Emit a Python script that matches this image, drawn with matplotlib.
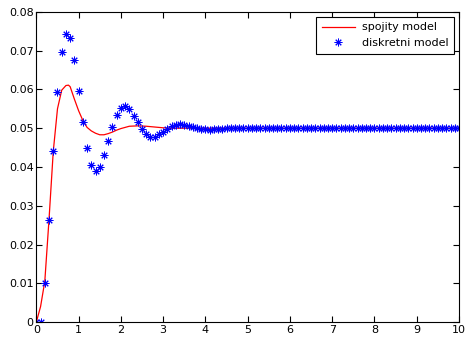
import numpy as np
import matplotlib
matplotlib.use('Agg')
import matplotlib.pyplot as plt

# continuous model
t_cont = [0, 0.1, 0.2, 0.3, 0.4, 0.5, 0.6, 0.7, 0.76, 0.8, 0.9, 1.0, 1.1, 1.2,
          1.3, 1.4, 1.5, 1.6, 1.7, 1.8, 1.9, 2.0, 2.2, 2.4, 2.6, 2.8, 3.0,
          3.2, 3.5, 4.0, 5.0, 10.0]
y_cont = [0, 0.0040, 0.0105, 0.0265, 0.0440, 0.0550, 0.0598, 0.0610, 0.0611,
          0.0607, 0.0575, 0.0545, 0.0520, 0.0502, 0.0493, 0.0487, 0.0483,
          0.0483, 0.0486, 0.0490, 0.0495, 0.0499, 0.0505, 0.0506, 0.0505,
          0.0503, 0.0501, 0.0500, 0.0500, 0.0500, 0.0500, 0.0500]

# discrete model, sampled every 0.1 s
y_disc_start = [0, 0, 0.0102, 0.0263, 0.0440, 0.0594, 0.0697, 0.0743, 0.0732,
                0.0675, 0.0596, 0.0516, 0.0450, 0.0404, 0.0390, 0.0399, 0.0430,
                0.0467, 0.0504, 0.0535, 0.0551, 0.0557, 0.0549, 0.0532, 0.0516,
                0.0497, 0.0484, 0.0478, 0.0478, 0.0484, 0.0490, 0.0499, 0.0505,
                0.0509, 0.0510, 0.0509, 0.0506, 0.0503, 0.0500, 0.0498, 0.0497,
                0.0496, 0.0497, 0.0498, 0.0499, 0.0500, 0.0501, 0.0501, 0.0501,
                0.0501, 0.0500]
y_disc = y_disc_start + [0.05] * (101 - len(y_disc_start))
t_disc = [i / 10 for i in range(101)]

xticks = list(range(11))
yticks = [0, 0.01, 0.02, 0.03, 0.04, 0.05, 0.06, 0.07, 0.08]
ytick_labels = ['0', '0.01', '0.02', '0.03', '0.04', '0.05', '0.06', '0.07', '0.08']

fig = plt.figure(figsize=(4.66, 3.39), dpi=100)
ax = fig.add_axes([0.078, 0.05, 0.907, 0.915])

ax.plot(t_cont, y_cont, color='red', linewidth=0.9, label='spojity model')
ax.plot(t_disc, y_disc, linestyle='none', marker=(8, 2, 0), markersize=5.5,
        markeredgewidth=0.7, color='blue', label='diskretni model')

ax.set_xlim(0, 10)
ax.set_ylim(0, 0.08)
ax.set_xticks(xticks)
ax.set_yticks(yticks)
ax.set_yticklabels(ytick_labels)
ax.tick_params(direction='in', top=True, right=True, labelsize=8, length=4, pad=2)

leg = ax.legend(loc='upper right', fontsize=8, fancybox=False, framealpha=1,
                edgecolor='black', borderaxespad=0.45, handlelength=3.0,
                handletextpad=0.6, numpoints=1, borderpad=0.5)
leg.get_frame().set_linewidth(0.8)

fig.savefig('out.png', dpi=100)
